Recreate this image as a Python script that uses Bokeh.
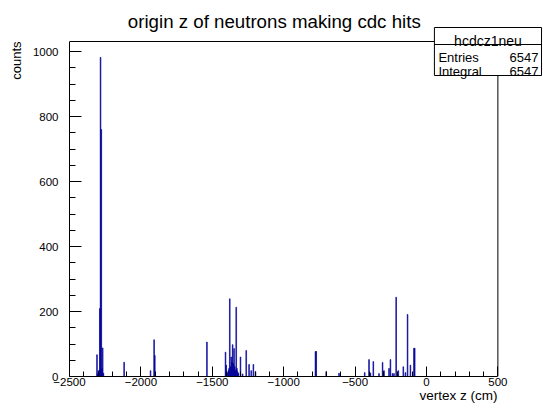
from bokeh.plotting import figure
from bokeh.models import Range1d, FixedTicker, Title
from bokeh.core.properties import value
from bokeh.embed import file_html
from bokeh.resources import INLINE

# ---------------- data ----------------
bin_width = 5
z_centers = [
    -2307.5, -2302.5, -2297.5, -2292.5, -2287.5, -2282.5, -2277.5, -2272.5, -2267.5, -2262.5,
    -2117.5, -1932.5, -1907.5, -1902.5, -1537.5,
    -1407.5, -1402.5, -1392.5, -1387.5, -1382.5, -1377.5, -1372.5, -1367.5, -1362.5, -1357.5,
    -1352.5, -1347.5, -1342.5, -1337.5, -1332.5, -1327.5, -1322.5, -1317.5, -1302.5, -1287.5,
    -1262.5, -1242.5, -1227.5, -1212.5, -1197.5,
    -777.5, -772.5, -702.5, -612.5,
    -432.5, -402.5, -392.5, -372.5, -332.5, -307.5, -297.5, -262.5, -252.5, -237.5,
    -227.5, -212.5, -197.5, -162.5, -147.5, -132.5, -112.5, -87.5, -82.5,
]
counts = [
    67, 8, 15, 20, 209, 982, 760, 25, 88, 10,
    44, 18, 113, 65, 106,
    75, 35, 12, 18, 25, 239, 30, 60, 45, 98,
    40, 86, 30, 20, 213, 25, 15, 10, 60, 8,
    80, 37, 18, 37, 15,
    77, 77, 15, 10,
    12, 52, 11, 46, 9, 43, 18, 25, 52, 9,
    9, 244, 18, 30, 12, 191, 35, 87, 87,
]

x_ticks = [-2500, -2000, -1500, -1000, -500, 0, 500]
x_tick_labels = ["\u22122500", "\u22122000", "\u22121500", "\u22121000", "\u2212500", "0", "500"]
x_minor = [-2400, -2300, -2200, -2100, -1900, -1800, -1700, -1600, -1400, -1300, -1200, -1100,
           -900, -800, -700, -600, -400, -300, -200, -100, 100, 200, 300, 400]
y_ticks = [0, 200, 400, 600, 800, 1000]
y_tick_labels = ["0", "200", "400", "600", "800", "1000"]
y_minor = [50, 100, 150, 250, 300, 350, 450, 500, 550, 650, 700, 750, 850, 900, 950]

title = "origin z of neutrons making cdc hits"
x_title = "vertex z (cm)"
y_title = "counts"
stats_name = "hcdcz1neu"
stats_labels = ["Entries", "Integral"]
stats_values = ["6547", "6547"]

x_lo, x_hi = -2500, 500
y_hi = 1030.8

FONT = "Liberation Sans"
HIST = "#000099"

# ---------------- geometry (pixel layout of the canvas) ----------------
W, H = 543, 413
FL, FR, FB = 65, 497, 376           # drawn frame: left, right, bottom (px)
sx = (FR - FL) / (x_hi - x_lo)      # px per cm
sy = (FB - 41) / y_hi               # px per count


def dx(px):
    return x_lo + (px - FL) / sx


def dy(py):
    return (FB - py) / sy


p = figure(width=W, height=H, output_backend="svg", toolbar_location=None,
           title_location=None,
           x_range=Range1d(x_lo, dx(W)), y_range=Range1d(0, dy(0)),
           min_border_left=FL, min_border_right=0, min_border_top=0,
           min_border_bottom=H - FB)
p.xgrid.visible = False
p.ygrid.visible = False
p.outline_line_color = None
p.background_fill_color = "white"
p.border_fill_color = "white"

# histogram
p.vbar(x=z_centers, top=counts, bottom=0, width=bin_width,
       fill_color=HIST, line_color=HIST, line_width=0.6)

# frame top / right edges
p.line(x=[x_lo, x_hi, x_hi], y=[y_hi, y_hi, 0], line_color="black", line_width=1)

# axes
for ax, ticks, labels, minor, tin, mtin, bounds in (
        (p.xaxis[0], x_ticks, x_tick_labels, x_minor, 10, 5, (x_lo, x_hi)),
        (p.yaxis[0], y_ticks, y_tick_labels, y_minor, 12, 6, (0, y_hi))):
    ax.ticker = FixedTicker(ticks=ticks, minor_ticks=minor)
    ax.major_label_overrides = {t: l for t, l in zip(ticks, labels)}
    ax.bounds = bounds
    ax.major_tick_in = tin
    ax.major_tick_out = 0
    ax.minor_tick_in = mtin
    ax.minor_tick_out = 0
    ax.axis_line_color = "black"
    ax.major_tick_line_color = "black"
    ax.minor_tick_line_color = "black"
    ax.major_label_text_font = FONT
    ax.major_label_text_font_size = "11.5px"
    ax.major_label_text_color = "black"
p.xaxis.major_label_standoff = 1
p.yaxis.major_label_standoff = 11

# axis titles, right-aligned at the axis ends
p.add_layout(Title(text=x_title, align="right", offset=W - FR, standoff=-6,
                   text_font=FONT, text_font_size="13.5px", text_font_style="normal",
                   text_color="black"), "below")
p.add_layout(Title(text=y_title, align="right", offset=41, standoff=12,
                   text_font=FONT, text_font_size="13px", text_font_style="normal",
                   text_color="black"), "left")

# main title (inside the extended frame area)
p.text(x=[dx(271.5)], y=[dy(21)], text=[title], text_font=value(FONT),
       text_font_size=value("18.7px"), text_align="center", text_baseline="alphabetic",
       text_color="black")

# stats box
bl, br, bt, bb, bh = dx(433), dx(541), dy(27), dy(75), dy(44)
p.quad(left=[bl], right=[br], top=[bt], bottom=[bb], fill_color="white",
       line_color="black", line_width=1)
p.line(x=[bl, br], y=[bh, bh], line_color="black", line_width=1)
p.text(x=[dx(487)], y=[dy(40.5)], text=[stats_name], text_font=value(FONT),
       text_font_size=value("14px"), text_align="center", text_baseline="alphabetic",
       text_color="black")
row_base = [56.5, 71]
p.text(x=[dx(437)] * 2, y=[dy(b) for b in row_base], text=stats_labels, text_font=value(FONT),
       text_font_size=value("13px"), text_align="left", text_baseline="alphabetic",
       text_color="black")
p.text(x=[dx(538)] * 2, y=[dy(b) for b in row_base], text=stats_values, text_font=value(FONT),
       text_font_size=value("13px"), text_align="right", text_baseline="alphabetic",
       text_color="black")

open("out.html", "w").write(file_html(p, INLINE))
